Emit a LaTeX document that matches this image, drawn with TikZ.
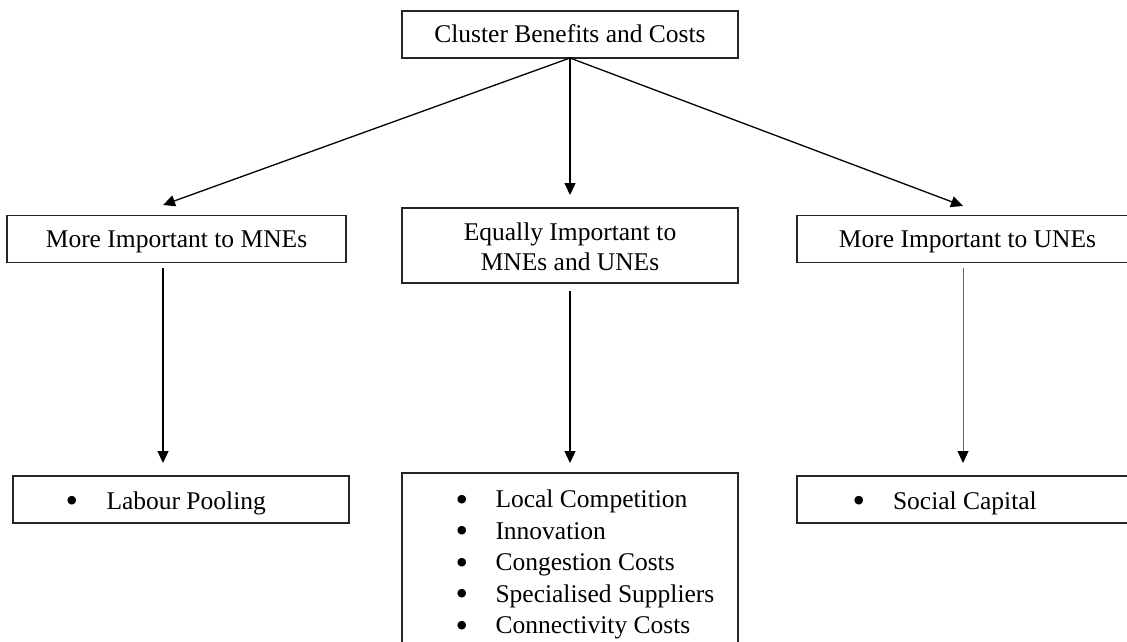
\documentclass[tikz,border=0pt]{standalone}
\usepackage{fontspec}
\setmainfont{Liberation Serif}
\usetikzlibrary{arrows.meta}
\newcommand\myblt{\raisebox{-0.14em}{\scalebox{1.4}{\textbullet}}}
\begin{document}
\begin{tikzpicture}[x=1pt,y=-1pt,
  box/.style={draw=black!85, line width=1.2pt, inner sep=0pt, outer sep=0pt},
  txt/.style={font=\fontsize{25.5}{31.5}\selectfont, inner sep=0pt, outer sep=0pt},
  arr/.style={line width=1.3pt, -{Triangle[length=12pt,width=11pt]}},
  thinarr/.style={line width=0.8pt, draw=black!60, -{Triangle[length=12pt,width=11pt,fill=black,color=black]}}]
\useasboundingbox (0,0) rectangle (1127,641);
\clip (0,0) rectangle (1127,641);
\fill[white] (0,0) rectangle (1127,641);
% boxes
\node[box, minimum width=336pt, minimum height=47pt] (top) at (570,34.5) {};
\node[txt, anchor=base] (toptxt) at (570,42) {Cluster Benefits and Costs};
\node[box, minimum width=339pt, minimum height=47pt] (lmid) at (176.5,239) {};
\node[txt, anchor=base] (lmidtxt) at (176.5,247.5) {More Important to MNEs};
\node[box, minimum width=336pt, minimum height=75pt] (cmid) at (570,245.5) {};
\node[txt, anchor=base] (cmidtxt) at (570,240) {\fontsize{25.5}{30.7}\selectfont\begin{tabular}[t]{@{}c@{}}Equally Important to\\MNEs and UNEs\end{tabular}};
\node[box, minimum width=339pt, minimum height=47pt] (rmid) at (966.5,239) {};
\node[txt, anchor=base] (rmidtxt) at (967.5,247.5) {More Important to UNEs};
\node[box, minimum width=336pt, minimum height=47pt] (lbot) at (181,499.5) {};
\node[txt, anchor=base west] (lbottxt) at (65.5,509) {\makebox[41pt][l]{\myblt}Labour Pooling};
\node[box, minimum width=336pt, minimum height=227pt] (cbot) at (570,586.5) {};
\node[txt, anchor=base west] (cbottxt) at (455.5,507.5) {\begin{tabular}[t]{@{}l@{}}
\makebox[40pt][l]{\myblt}Local Competition\\
\makebox[40pt][l]{\myblt}Innovation\\
\makebox[40pt][l]{\myblt}Congestion Costs\\
\makebox[40pt][l]{\myblt}Specialised Suppliers\\
\makebox[40pt][l]{\myblt}Connectivity Costs
\end{tabular}};
\node[box, minimum width=336pt, minimum height=47pt] (rbot) at (965,499.5) {};
\node[txt, anchor=base west] (rbottxt) at (852.5,509) {\makebox[40.5pt][l]{\myblt}Social Capital};
% connector coordinates
\coordinate (lt) at (163,205);
\coordinate (ct) at (570,195);
\coordinate (rt) at (963,206);
\coordinate (ls) at (163,268);
\coordinate (le) at (163,463);
\coordinate (cs) at (570,291);
\coordinate (ce) at (570,463);
\coordinate (rs) at (963,268);
\coordinate (re) at (963,463);
% connectors
\draw[arr] (top.south) -- (lt);
\draw[arr] (top.south) -- (ct);
\draw[arr] (top.south) -- (rt);
\draw[arr] (ls) -- (le);
\draw[arr] (cs) -- (ce);
\draw[thinarr] (rs) -- (re);
\end{tikzpicture}
\end{document}
